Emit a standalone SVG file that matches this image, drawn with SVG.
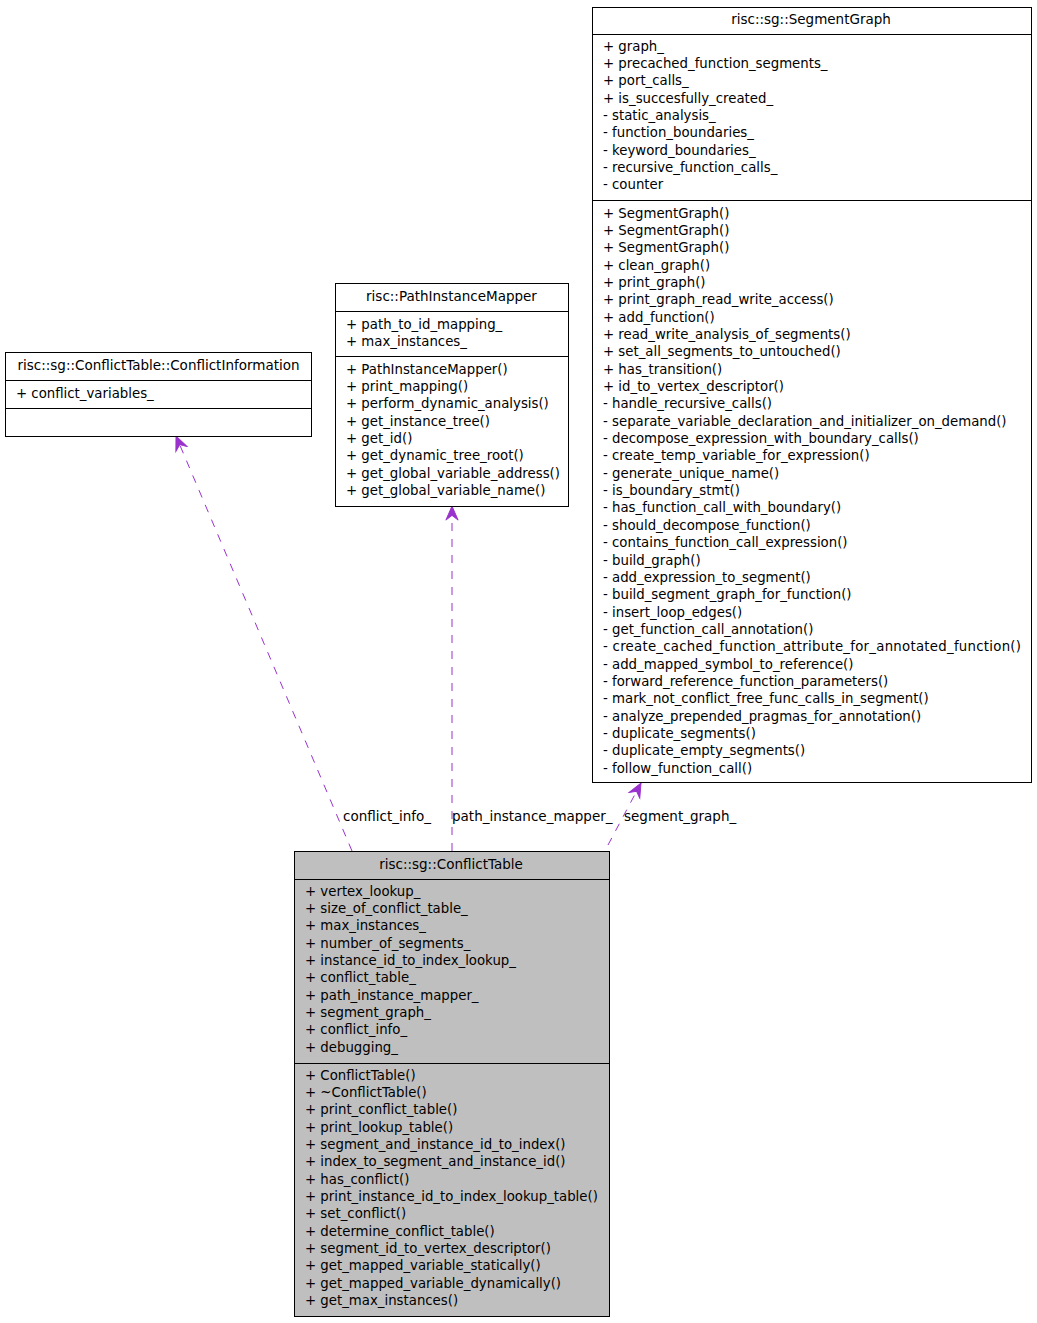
<svg xmlns="http://www.w3.org/2000/svg" width="1037" height="1323" viewBox="0 0 1037 1323">
<style>
text{font-family:"DejaVu Sans","Liberation Sans",sans-serif;font-size:13.3px;fill:#000}
.c{text-anchor:middle;font-size:13.5px}
.lbl{font-size:13.5px}
.box{fill:#fff;stroke:#000;stroke-width:1}
.cur{fill:#bfbfbf;stroke:#000;stroke-width:1}
.div{stroke:#000;stroke-width:1;fill:none}
.edge{stroke:#9a32cd;stroke-width:1;fill:none;stroke-dasharray:8,8}
</style>
<defs>
<marker id="arr" markerWidth="16" markerHeight="16" viewBox="-16 -8 17 16" refX="0" refY="0" orient="auto" markerUnits="userSpaceOnUse">
<path d="M0,0 L-15,-6.5 L-10,0 L-15,6.5 Z" fill="#9a32cd" stroke="#9a32cd" stroke-width="1"/>
</marker>
</defs>
<rect width="1037" height="1323" fill="#fff"/>
<g id="edges">
<path class="edge" d="M352,851 L176,436" marker-end="url(#arr)"/>
<path class="edge" d="M452,851 L452,506" marker-end="url(#arr)"/>
<path class="edge" d="M608,845 L641,783" marker-end="url(#arr)"/>
<text class="lbl" x="343" y="820.5">conflict_info_</text>
<text class="lbl" x="452" y="820.5">path_instance_mapper_</text>
<text class="lbl" x="624" y="820.5">segment_graph_</text>
</g>
<g id="SegmentGraph">
<rect class="box" x="592.5" y="7.5" width="439" height="775"/>
<path class="div" d="M592.5,34.5H1031.5M592.5,200.5H1031.5"/>
<text class="c" x="811" y="23.5">risc::sg::SegmentGraph</text>
<text x="603" y="50.5">+ graph_</text>
<text x="603" y="67.85">+ precached_function_segments_</text>
<text x="603" y="85.2">+ port_calls_</text>
<text x="603" y="102.55">+ is_succesfully_created_</text>
<text x="603" y="119.9">- static_analysis_</text>
<text x="603" y="137.25">- function_boundaries_</text>
<text x="603" y="154.6">- keyword_boundaries_</text>
<text x="603" y="171.95">- recursive_function_calls_</text>
<text x="603" y="189.3">- counter</text>
<text x="603" y="217.5">+ SegmentGraph()</text>
<text x="603" y="234.85">+ SegmentGraph()</text>
<text x="603" y="252.2">+ SegmentGraph()</text>
<text x="603" y="269.55">+ clean_graph()</text>
<text x="603" y="286.9">+ print_graph()</text>
<text x="603" y="304.25">+ print_graph_read_write_access()</text>
<text x="603" y="321.6">+ add_function()</text>
<text x="603" y="338.95">+ read_write_analysis_of_segments()</text>
<text x="603" y="356.3">+ set_all_segments_to_untouched()</text>
<text x="603" y="373.65">+ has_transition()</text>
<text x="603" y="391">+ id_to_vertex_descriptor()</text>
<text x="603" y="408.35">- handle_recursive_calls()</text>
<text x="603" y="425.7">- separate_variable_declaration_and_initializer_on_demand()</text>
<text x="603" y="443.05">- decompose_expression_with_boundary_calls()</text>
<text x="603" y="460.4">- create_temp_variable_for_expression()</text>
<text x="603" y="477.75">- generate_unique_name()</text>
<text x="603" y="495.1">- is_boundary_stmt()</text>
<text x="603" y="512.45">- has_function_call_with_boundary()</text>
<text x="603" y="529.8">- should_decompose_function()</text>
<text x="603" y="547.15">- contains_function_call_expression()</text>
<text x="603" y="564.5">- build_graph()</text>
<text x="603" y="581.85">- add_expression_to_segment()</text>
<text x="603" y="599.2">- build_segment_graph_for_function()</text>
<text x="603" y="616.55">- insert_loop_edges()</text>
<text x="603" y="633.9">- get_function_call_annotation()</text>
<text x="603" y="651.25" textLength="418" lengthAdjust="spacing">- create_cached_function_attribute_for_annotated_function()</text>
<text x="603" y="668.6">- add_mapped_symbol_to_reference()</text>
<text x="603" y="685.95">- forward_reference_function_parameters()</text>
<text x="603" y="703.3">- mark_not_conflict_free_func_calls_in_segment()</text>
<text x="603" y="720.65">- analyze_prepended_pragmas_for_annotation()</text>
<text x="603" y="738">- duplicate_segments()</text>
<text x="603" y="755.35">- duplicate_empty_segments()</text>
<text x="603" y="772.7">- follow_function_call()</text>
</g>
<g id="ConflictInformation">
<rect class="box" x="5.5" y="352.5" width="306" height="84"/>
<path class="div" d="M5.5,380.5H311.5M5.5,408.5H311.5"/>
<text class="c" x="158.5" y="369.5">risc::sg::ConflictTable::ConflictInformation</text>
<text x="16" y="397.5">+ conflict_variables_</text>
</g>
<g id="PathInstanceMapper">
<rect class="box" x="335.5" y="283.5" width="233" height="223"/>
<path class="div" d="M335.5,311.5H568.5M335.5,356.5H568.5"/>
<text class="c" x="451.5" y="300.5">risc::PathInstanceMapper</text>
<text x="346" y="328.5">+ path_to_id_mapping_</text>
<text x="346" y="345.85">+ max_instances_</text>
<text x="346" y="373.5">+ PathInstanceMapper()</text>
<text x="346" y="390.85">+ print_mapping()</text>
<text x="346" y="408.2">+ perform_dynamic_analysis()</text>
<text x="346" y="425.55">+ get_instance_tree()</text>
<text x="346" y="442.9">+ get_id()</text>
<text x="346" y="460.25">+ get_dynamic_tree_root()</text>
<text x="346" y="477.6">+ get_global_variable_address()</text>
<text x="346" y="494.95">+ get_global_variable_name()</text>
</g>
<g id="ConflictTable">
<rect class="cur" x="294.5" y="851.5" width="315" height="465"/>
<path class="div" d="M294.5,879.5H609.5M294.5,1063.5H609.5"/>
<text class="c" x="451" y="868.5">risc::sg::ConflictTable</text>
<text x="305" y="895.5">+ vertex_lookup_</text>
<text x="305" y="912.85">+ size_of_conflict_table_</text>
<text x="305" y="930.2">+ max_instances_</text>
<text x="305" y="947.55">+ number_of_segments_</text>
<text x="305" y="964.9">+ instance_id_to_index_lookup_</text>
<text x="305" y="982.25">+ conflict_table_</text>
<text x="305" y="999.6">+ path_instance_mapper_</text>
<text x="305" y="1016.95">+ segment_graph_</text>
<text x="305" y="1034.3">+ conflict_info_</text>
<text x="305" y="1051.65">+ debugging_</text>
<text x="305" y="1079.5">+ ConflictTable()</text>
<text x="305" y="1096.85">+ ~ConflictTable()</text>
<text x="305" y="1114.2">+ print_conflict_table()</text>
<text x="305" y="1131.55">+ print_lookup_table()</text>
<text x="305" y="1148.9">+ segment_and_instance_id_to_index()</text>
<text x="305" y="1166.25">+ index_to_segment_and_instance_id()</text>
<text x="305" y="1183.6">+ has_conflict()</text>
<text x="305" y="1200.95">+ print_instance_id_to_index_lookup_table()</text>
<text x="305" y="1218.3">+ set_conflict()</text>
<text x="305" y="1235.65">+ determine_conflict_table()</text>
<text x="305" y="1253">+ segment_id_to_vertex_descriptor()</text>
<text x="305" y="1270.35">+ get_mapped_variable_statically()</text>
<text x="305" y="1287.7">+ get_mapped_variable_dynamically()</text>
<text x="305" y="1305.05">+ get_max_instances()</text>
</g>
</svg>
